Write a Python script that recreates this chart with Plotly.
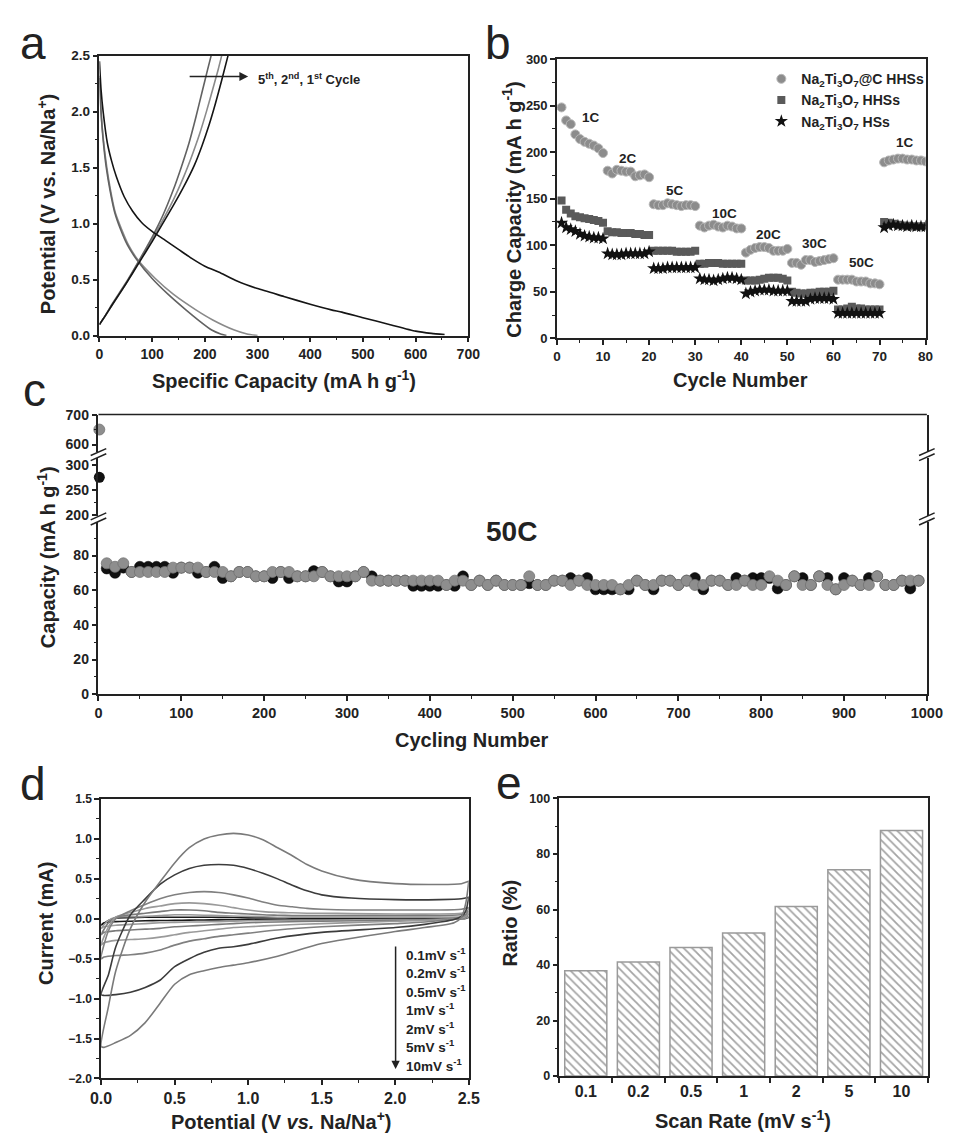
import plotly.graph_objects as go

# ---------------- DATA ----------------
# panel a: galvanostatic discharge/charge curves (1st, 2nd, 5th cycle)
a_dis1_x = [0, 3, 7, 15, 23, 32, 47, 63, 80, 100, 125, 150, 175, 200, 230, 260, 300, 350, 400, 440, 460, 500, 550, 600, 630, 655]
a_dis1_y = [2.45, 2.2, 2.0, 1.72, 1.56, 1.42, 1.24, 1.11, 1.01, 0.93, 0.85, 0.77, 0.69, 0.62, 0.56, 0.49, 0.42, 0.35, 0.28, 0.23, 0.21, 0.16, 0.1, 0.04, 0.02, 0.01]
a_chg1_x = [0, 10, 25, 50, 75, 100, 120, 140, 160, 180, 195, 208, 220, 232, 244]
a_chg1_y = [0.1, 0.17, 0.28, 0.46, 0.65, 0.84, 1.0, 1.16, 1.33, 1.52, 1.7, 1.88, 2.07, 2.28, 2.5]
a_dis2_x = [0, 3, 7, 14, 21, 30, 42, 55, 74, 106, 140, 183, 215, 256, 280, 300]
a_dis2_y = [2.32, 2.0, 1.77, 1.5, 1.3, 1.1, 0.95, 0.81, 0.67, 0.51, 0.37, 0.23, 0.14, 0.05, 0.015, 0.0]
a_chg2_x = [0, 10, 25, 50, 75, 100, 120, 140, 160, 175, 190, 203, 215, 225, 232]
a_chg2_y = [0.1, 0.17, 0.28, 0.46, 0.66, 0.86, 1.03, 1.21, 1.42, 1.6, 1.8, 2.0, 2.2, 2.37, 2.5]
a_dis5_x = [0, 3, 7, 13, 20, 29, 40, 53, 72, 100, 130, 164, 190, 213, 230, 241]
a_dis5_y = [2.3, 2.0, 1.75, 1.5, 1.3, 1.1, 0.95, 0.81, 0.67, 0.51, 0.37, 0.23, 0.13, 0.05, 0.015, 0.0]
a_chg5_x = [0, 10, 25, 50, 75, 100, 120, 140, 155, 170, 183, 195, 205, 212]
a_chg5_y = [0.1, 0.17, 0.29, 0.47, 0.67, 0.88, 1.07, 1.3, 1.5, 1.72, 1.95, 2.18, 2.37, 2.5]

# panel b: rate performance
b_cycles = list(range(1, 81))
b_ntoc = [248, 234, 230, 219, 214, 211, 209, 207, 204, 199,
          180, 177, 181, 180, 179, 179, 174, 175, 176, 173,
          144, 143, 143, 145, 144, 143, 142, 143, 143, 142,
          121, 119, 121, 122, 120, 119, 121, 120, 118, 118,
          92, 95, 97, 98, 98, 97, 94, 94, 94, 96,
          81, 81, 79, 84, 84, 82, 83, 84, 85, 86,
          63, 63, 63, 63, 61, 61, 61, 59, 59, 58,
          189, 191, 192, 193, 193, 192, 192, 191, 191, 190]
b_hhs = [148, 138, 134, 131, 130, 129, 128, 127, 126, 124,
         115, 114, 114, 113, 113, 113, 112, 112, 111, 111,
         94, 94, 94, 94, 94, 93, 93, 93, 93, 94,
         80, 80, 81, 81, 81, 80, 80, 80, 80, 80,
         62, 62, 62, 63, 64, 65, 65, 65, 64, 62,
         50, 49, 48, 48, 49, 49, 50, 50, 50, 51,
         31, 31, 32, 34, 32, 32, 31, 31, 31, 31,
         125, 124, 123, 122, 121, 121, 120, 120, 120, 120]
b_hs = [124, 119, 117, 115, 112, 110, 109, 108, 108, 107,
        91, 90, 90, 90, 91, 91, 91, 91, 91, 93,
        75, 75, 75, 76, 76, 76, 76, 76, 76, 76,
        64, 63, 63, 62, 63, 64, 65, 65, 64, 63,
        48, 50, 51, 52, 52, 52, 51, 51, 51, 51,
        40, 40, 40, 40, 42, 43, 43, 43, 43, 42,
        27, 27, 27, 27, 27, 27, 27, 27, 27, 27,
        119, 121, 122, 121, 121, 120, 121, 120, 120, 120]
b_rate_labels = ["1C", "2C", "5C", "10C", "20C", "30C", "50C", "1C"]
b_rate_x = [7.5, 15.4, 25.6, 36.4, 46, 56, 66, 75.5]
b_rate_y = [237, 193, 159, 134, 111, 102, 81, 210]

# panel c: long cycling at 50C
c_first_cycle = [1]
c_first_gray = [650]
c_first_black = [275]
c_cycles = list(range(10, 1000, 10))
c_gray = [75.5, 73.5, 75.5, 70.5, 70.5, 70.5, 70.5, 70.5, 73,
          73, 73, 73, 70.5, 70.5, 70.5, 68, 70.5, 70.5, 68,
          68, 70.5, 70.5, 70.5, 68, 68, 68, 70.5, 68, 68,
          68, 68, 70.5, 65.5, 65.5, 65.5, 65.5, 65.5, 65.5, 65.5,
          65.5, 65.5, 63, 65.5, 65.5, 63, 65.5, 63, 65.5, 63,
          63, 63, 68, 63, 63, 65.5, 65.5, 63, 65.5, 63,
          63, 63, 63, 60.5, 63, 65.5, 63, 63, 65.5, 65.5,
          63, 65.5, 63, 63, 65.5, 65.5, 63, 63, 65.5, 63,
          63, 68, 65.5, 63, 68, 63, 63, 68, 63, 60.5,
          63, 65.5, 63, 63, 68, 63, 63, 65.5, 65.5, 65.5]
c_black = [72.5, 70, 73, 70.5, 73.5, 73.5, 73.5, 73.5, 70,
           73, 73, 70, 70.5, 73.5, 67, 68, 70.5, 70.5, 68,
           68, 67, 70.5, 67, 68, 68, 71, 70.5, 68, 65,
           65, 68, 70.5, 68, 65.5, 65.5, 65.5, 65.5, 62.5, 62.5,
           62.5, 62.5, 63, 62.5, 68, 63, 65.5, 63, 65.5, 63,
           63, 63, 64, 63, 63, 65.5, 65.5, 67, 65.5, 67,
           60.5, 60.5, 60.5, 60.5, 60.5, 65.5, 63, 60.5, 65.5, 65.5,
           63, 65.5, 67, 60.5, 65.5, 65.5, 63, 67, 65.5, 67,
           67, 67, 61, 63, 68, 67, 63, 68, 67, 60.5,
           67, 65.5, 63, 67, 68, 63, 63, 65.5, 61, 65.5]

# panel d: CV curves
d_anodic_x = [0.0, 0.05, 0.1, 0.2, 0.3, 0.4, 0.5, 0.6, 0.7, 0.8, 0.9, 1.0, 1.1, 1.2, 1.3, 1.4, 1.5, 1.7, 2.0, 2.3, 2.45, 2.5]
d_cathodic_x = [2.5, 2.48, 2.45, 2.4, 2.2, 2.0, 1.5, 1.2, 1.0, 0.9, 0.8, 0.7, 0.6, 0.5, 0.4, 0.3, 0.2, 0.1, 0.02, 0.0]
d_rates = ["0.1mV s<sup>-1</sup>", "0.2mV s<sup>-1</sup>", "0.5mV s<sup>-1</sup>", "1mV s<sup>-1</sup>",
           "2mV s<sup>-1</sup>", "5mV s<sup>-1</sup>", "10mV s<sup>-1</sup>"]
d_an_01 = [-0.08, -0.02, 0.01, 0.015, 0.02, 0.02, 0.02, 0.02, 0.02, 0.018, 0.017, 0.015, 0.014, 0.013, 0.012, 0.011, 0.01, 0.01, 0.01, 0.01, 0.012, 0.015]
d_ca_01 = [0.015, 0.005, 0.0, -0.002, -0.004, -0.005, -0.008, -0.009, -0.01, -0.012, -0.013, -0.015, -0.017, -0.02, -0.022, -0.025, -0.03, -0.035, -0.05, -0.08]
d_an_02 = [-0.12, -0.02, 0.02, 0.025, 0.03, 0.04, 0.05, 0.05, 0.045, 0.04, 0.035, 0.03, 0.025, 0.02, 0.02, 0.02, 0.02, 0.02, 0.02, 0.02, 0.025, 0.03]
d_ca_02 = [0.03, 0.01, 0.0, -0.003, -0.008, -0.01, -0.015, -0.02, -0.025, -0.03, -0.035, -0.04, -0.04, -0.045, -0.05, -0.06, -0.07, -0.08, -0.1, -0.12]
d_an_05 = [-0.2, -0.05, 0.02, 0.05, 0.07, 0.09, 0.11, 0.11, 0.1, 0.08, 0.07, 0.06, 0.05, 0.045, 0.04, 0.04, 0.04, 0.04, 0.04, 0.04, 0.05, 0.06]
d_ca_05 = [0.06, 0.02, 0.0, -0.005, -0.015, -0.02, -0.03, -0.04, -0.05, -0.06, -0.07, -0.08, -0.09, -0.1, -0.12, -0.13, -0.14, -0.15, -0.17, -0.2]
d_an_1 = [-0.33, -0.1, 0.02, 0.08, 0.13, 0.16, 0.19, 0.2, 0.19, 0.17, 0.14, 0.11, 0.09, 0.08, 0.075, 0.07, 0.07, 0.065, 0.06, 0.06, 0.07, 0.09]
d_ca_1 = [0.09, 0.03, 0.01, 0.0, -0.02, -0.03, -0.06, -0.08, -0.1, -0.11, -0.13, -0.15, -0.17, -0.2, -0.23, -0.25, -0.26, -0.27, -0.3, -0.33]
d_an_2 = [-0.5, -0.15, 0.0, 0.1, 0.18, 0.25, 0.3, 0.33, 0.34, 0.33, 0.3, 0.26, 0.21, 0.17, 0.15, 0.13, 0.12, 0.11, 0.11, 0.11, 0.12, 0.14]
d_ca_2 = [0.14, 0.05, 0.02, 0.0, -0.04, -0.06, -0.1, -0.14, -0.18, -0.2, -0.22, -0.25, -0.28, -0.33, -0.39, -0.43, -0.45, -0.46, -0.48, -0.5]
d_an_5 = [-0.95, -0.7, -0.35, 0.05, 0.25, 0.43, 0.55, 0.63, 0.67, 0.68, 0.67, 0.63, 0.57, 0.5, 0.42, 0.35, 0.3, 0.26, 0.24, 0.24, 0.25, 0.27]
d_ca_5 = [0.27, 0.1, 0.03, -0.01, -0.07, -0.11, -0.17, -0.24, -0.32, -0.35, -0.37, -0.42, -0.5, -0.6, -0.77, -0.86, -0.92, -0.95, -0.96, -0.95]
d_an_10 = [-1.6, -1.1, -0.65, -0.12, 0.21, 0.46, 0.7, 0.89, 1.0, 1.05, 1.07, 1.05, 0.99, 0.89, 0.79, 0.68, 0.6, 0.5, 0.44, 0.43, 0.44, 0.47]
d_ca_10 = [0.47, 0.2, 0.02, -0.05, -0.11, -0.16, -0.31, -0.47, -0.55, -0.58, -0.61, -0.65, -0.7, -0.82, -1.06, -1.3, -1.46, -1.55, -1.61, -1.6]

# panel e: capacitive ratio
e_rates = ["0.1", "0.2", "0.5", "1", "2", "5", "10"]
e_ratio = [37.9, 41.1, 46.3, 51.5, 61.1, 74.3, 88.5]

# ---------------- LAYOUT HELPERS ----------------
W, H = 962, 1140
FONT = "Liberation Sans, Arial, sans-serif"
INK = "#222222"


def px(x):
    return x / W


def py(y):
    return 1 - y / H


def xdom(x0, x1):
    return [px(x0), px(x1)]


def ydom(ytop, ybot):
    return [py(ybot), py(ytop)]


def tf(size):
    return dict(family=FONT, size=size, color=INK, weight="bold")


def axstyle(size=13, mirror=True, **kw):
    d = dict(showline=True, linecolor=INK, linewidth=1.5, mirror=mirror,
             ticks="outside", ticklen=5, tickwidth=1.5, tickcolor=INK,
             tickfont=tf(size), showgrid=False, zeroline=False,
             minor=dict(ticks="outside", ticklen=3, tickwidth=1.2, tickcolor=INK, showgrid=False))
    d.update(kw)
    return d


fig = go.Figure()

# ---------------- PANEL A ----------------
for xs, ys, col in [(a_dis2_x, a_dis2_y, "#8a8a8a"), (a_chg2_x, a_chg2_y, "#8a8a8a"),
                    (a_dis5_x, a_dis5_y, "#626262"), (a_chg5_x, a_chg5_y, "#626262"),
                    (a_dis1_x, a_dis1_y, "#151515"), (a_chg1_x, a_chg1_y, "#151515")]:
    fig.add_trace(go.Scatter(x=xs, y=ys, mode="lines", line=dict(color=col, width=1.6, shape="spline", smoothing=0.5),
                             xaxis="x", yaxis="y", showlegend=False))

# ---------------- PANEL B ----------------
fig.add_trace(go.Scatter(x=b_cycles, y=b_ntoc, mode="markers", name="Na<sub>2</sub>Ti<sub>3</sub>O<sub>7</sub>@C HHSs",
                         marker=dict(symbol="circle", size=9, color="#8c8c8c", line=dict(color="#b8b8b8", width=1)),
                         xaxis="x2", yaxis="y2", legend="legend"))
fig.add_trace(go.Scatter(x=b_cycles, y=b_hhs, mode="markers", name="Na<sub>2</sub>Ti<sub>3</sub>O<sub>7</sub> HHSs",
                         marker=dict(symbol="square", size=8, color="#5a5a5a", line=dict(width=0)),
                         xaxis="x2", yaxis="y2", legend="legend"))
fig.add_trace(go.Scatter(x=b_cycles, y=b_hs, mode="markers", name="Na<sub>2</sub>Ti<sub>3</sub>O<sub>7</sub> HSs",
                         marker=dict(symbol="star", size=10, color="#111111", line=dict(width=0)),
                         xaxis="x2", yaxis="y2", legend="legend"))

# ---------------- PANEL C ----------------
fig.add_trace(go.Scatter(x=c_cycles, y=c_black, mode="markers", showlegend=False,
                         marker=dict(size=11, color="#111111", line=dict(color="#000", width=0.5)),
                         xaxis="x3", yaxis="y3", cliponaxis=False))
fig.add_trace(go.Scatter(x=c_cycles, y=c_gray, mode="markers", showlegend=False,
                         marker=dict(size=11, color="#8e8e8e", line=dict(color="#747474", width=0.8)),
                         xaxis="x3", yaxis="y3", cliponaxis=False))
fig.add_trace(go.Scatter(x=c_first_cycle, y=c_first_black, mode="markers", showlegend=False,
                         marker=dict(size=11, color="#111111"), xaxis="x3", yaxis="y4", cliponaxis=False))
fig.add_trace(go.Scatter(x=c_first_cycle, y=c_first_gray, mode="markers", showlegend=False,
                         marker=dict(size=11, color="#8e8e8e", line=dict(color="#747474", width=0.8)),
                         xaxis="x3", yaxis="y5", cliponaxis=False))

# ---------------- PANEL D ----------------
d_an = [d_an_01, d_an_02, d_an_05, d_an_1, d_an_2, d_an_5, d_an_10]
d_ca = [d_ca_01, d_ca_02, d_ca_05, d_ca_1, d_ca_2, d_ca_5, d_ca_10]
d_cols = ["#1a1a1a", "#9a9a9a", "#7a7a7a", "#9a9a9a", "#808080", "#3c3c3c", "#7a7a7a"]
for an, ca, col in zip(d_an, d_ca, d_cols):
    fig.add_trace(go.Scatter(x=d_anodic_x + d_cathodic_x, y=an + ca, mode="lines",
                             line=dict(color=col, width=1.6, shape="spline", smoothing=0.7),
                             xaxis="x4", yaxis="y6", showlegend=False))

# ---------------- PANEL E ----------------
fig.add_trace(go.Bar(x=e_rates, y=e_ratio, xaxis="x5", yaxis="y7", showlegend=False,
                     marker=dict(color="white", line=dict(color="#9a9a9a", width=1.5),
                                 pattern=dict(shape="\\", fgcolor="#4a4a4a", bgcolor="white", size=6, solidity=0.3))))

# ---------------- AXES ----------------
layout = dict(
    width=W, height=H, margin=dict(l=0, r=0, t=0, b=0),
    paper_bgcolor="white", plot_bgcolor="white", bargap=0.2,
    font=dict(family=FONT, color=INK),
    xaxis=axstyle(14, domain=xdom(91, 470.5), anchor="y", range=[0, 700], dtick=100, minor_dtick=50),
    yaxis=axstyle(13.5, domain=ydom(48.3, 332.3), anchor="x", range=[0, 2.5], dtick=0.5, tickformat=".1f", minor_dtick=0.25),
    xaxis2=axstyle(13.5, domain=xdom(561.7, 941), anchor="y2", range=[0, 80], dtick=10, minor_dtick=5),
    yaxis2=axstyle(13, domain=ydom(51.7, 335), anchor="x2", range=[0, 300], dtick=50, minor_dtick=25),
    xaxis3=axstyle(14.5, mirror=False, domain=xdom(90, 942.3), anchor="y3", range=[0, 1000], dtick=100, minor_dtick=50),
    yaxis3=axstyle(14, domain=ydom(521, 696), anchor="x3", range=[0, 99.5], dtick=20, minor_dtick=10),
    yaxis4=axstyle(14, domain=ydom(456, 515.5), anchor="x3", range=[197.6, 314.3], tick0=0, dtick=50, minor_dtick=25),
    yaxis5=axstyle(14, domain=ydom(412.3, 450), anchor="x3", range=[576, 700.3], tick0=0, dtick=100, minor_dtick=50),
    xaxis4=axstyle(16, domain=xdom(92.7, 471), anchor="y6", range=[0, 2.5], dtick=0.5, tickformat=".1f", minor_dtick=0.25),
    yaxis6=axstyle(12, domain=ydom(802.3, 1085.7), anchor="x4", range=[-2.0, 1.5], dtick=0.5, tickformat=".1f", minor_dtick=0.25),
    xaxis5=axstyle(16, domain=xdom(564.3, 943.3), anchor="y7", type="category", range=[-0.5, 6.5], tickson="boundaries"),
    yaxis7=axstyle(12.5, domain=ydom(801.7, 1083.3), anchor="x5", range=[0, 100], dtick=20, minor_dtick=10),
    legend=dict(x=px(772), y=py(56), xanchor="left", yanchor="top", bgcolor="rgba(0,0,0,0)",
                font=dict(family=FONT, size=14, color=INK, weight="bold"), tracegroupgap=0, itemwidth=30),
)
fig.update_layout(**layout)
fig.update_layout(xaxis5=dict(minor=dict(ticks="")))

# ---------------- ANNOTATIONS ----------------
ann = []


def text(t, x, y, size, angle=0, xanchor="center", yanchor="middle", weight="bold"):
    ann.append(dict(text=t, x=px(x), y=py(y), xref="paper", yref="paper", showarrow=False,
                    xanchor=xanchor, yanchor=yanchor, textangle=angle,
                    font=dict(family=FONT, size=size, color=INK, weight=weight)))


# panel letters
text("a", 23, 64, 46, yanchor="bottom", weight="normal")
text("b", 501, 64, 46, yanchor="bottom", weight="normal")
text("c", 24, 416, 46, yanchor="bottom", weight="normal")
text("d", 23, 815, 46, yanchor="bottom", weight="normal")
text("e", 512, 814, 46, yanchor="bottom", weight="normal")

# axis titles
text("Specific Capacity (mA h g<sup>-1</sup>)", 281, 377, 20)
text("Potential (V vs. Na/Na<sup>+</sup>)", 36, 199, 20, angle=-90)
text("Cycle Number", 751, 377, 20)
text("Charge Capacity (mA h g<sup>-1</sup>)", 515, 205, 20, angle=-90)
text("Cycling Number", 474, 742, 20)
text("Capacity (mA h g<sup>-1</sup>)", 36, 557, 20, angle=-90)
text("Potential (V <i>vs.</i> Na/Na<sup>+</sup>)", 278, 1128, 20)
text("Current (mA)", 36, 928, 20, angle=-90)
text("Scan Rate (mV s<sup>-1</sup>)", 753, 1127, 20)
text("Ratio (%)", 513, 928, 20, angle=-90)

# panel a label with arrow
text("5<sup>th</sup>, 2<sup>nd</sup>, 1<sup>st</sup> Cycle", 252, 72, 13, xanchor="left")
ann.append(dict(x=px(244), y=py(69.5), xref="paper", yref="paper", ax=-60, ay=0, axref="pixel", ayref="pixel",
                text="", showarrow=True, arrowhead=2, arrowsize=1.1, arrowwidth=1.6, arrowcolor=INK, standoff=0, startstandoff=0))

# panel b rate labels
for lab, xv, yv in zip(b_rate_labels, b_rate_x, b_rate_y):
    ann.append(dict(text=lab, x=xv, y=yv, xref="x2", yref="y2", showarrow=False,
                    font=dict(family=FONT, size=13.5, color=INK, weight="bold")))

# panel c label
text("50C", 515, 531, 28)

# panel d rate list with arrow
for i, r in enumerate(d_rates):
    text(r, 404, 959 + i * 18.8, 13.5, xanchor="left")
ann.append(dict(x=px(395.7), y=py(1076), xref="paper", yref="paper", ax=0, ay=-124, axref="pixel", ayref="pixel",
                text="", showarrow=True, arrowhead=2, arrowsize=1.1, arrowwidth=1.5, arrowcolor=INK, standoff=0, startstandoff=0))

fig.update_layout(annotations=ann)

# ---------------- SHAPES (panel c frame top and axis breaks) ----------------
shapes = [dict(type="line", xref="paper", yref="paper", x0=px(90), x1=px(942.3), y0=py(412.3), y1=py(412.3),
               line=dict(color=INK, width=1.5))]
for xc in (90, 942.3):
    for yc in (453, 518.2):
        for d in (-2.6, 2.6):
            shapes.append(dict(type="line", xref="paper", yref="paper",
                               x0=px(xc - 8), y0=py(yc + d + 3.5), x1=px(xc + 8), y1=py(yc + d - 3.5),
                               line=dict(color=INK, width=1.5)))
fig.update_layout(shapes=shapes)

fig.write_html("out.html")
